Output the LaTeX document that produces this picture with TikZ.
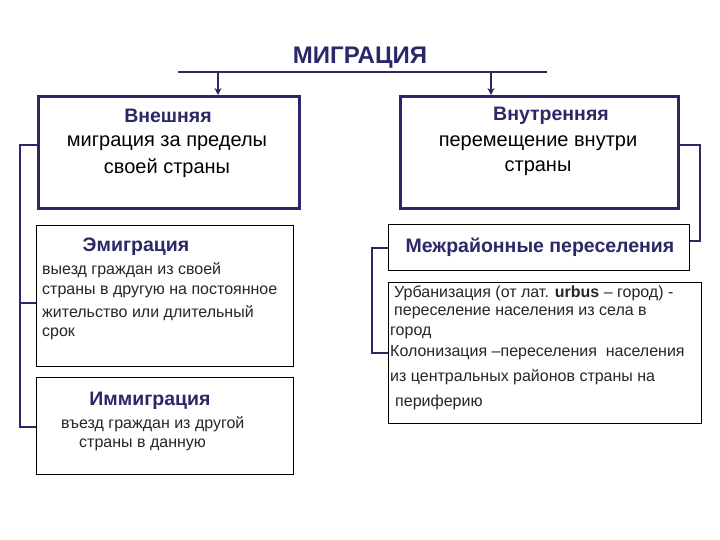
\documentclass[tikz,border=0pt]{standalone}
\usepackage{fontspec}
\setmainfont{Liberation Sans}
\usetikzlibrary{arrows.meta,calc}
\definecolor{navy}{RGB}{42,40,102}
\begin{document}
\begin{tikzpicture}[x=1pt,y=-1pt,
  bigbox/.style={draw=navy,line width=2.6pt,inner sep=0pt,anchor=north west},
  smallbox/.style={draw=black,line width=0.9pt,inner sep=0pt,anchor=north west},
  conn/.style={draw=navy,line width=2.6pt},
  head/.style={font=\bfseries\fontsize{19.5}{22}\selectfont,text=navy,inner sep=0pt},
  mainline/.style={font=\fontsize{20}{22}\selectfont,inner sep=0pt},
  body/.style={font=\fontsize{16}{18}\selectfont,inner sep=0pt,anchor=west,text=black!85}]
\useasboundingbox (0,0) rectangle (720,540);
\fill[white] (0,0) rectangle (720,540);
% title
\node[font=\bfseries\fontsize{24}{26}\selectfont,text=navy,inner sep=0pt] (title) at (360,58) {МИГРАЦИЯ};
\coordinate (tl) at (178,72);
\coordinate (tr) at (547,72);
\coordinate (ta) at (218,72);
\coordinate (tb) at (491,72);
\draw[conn] (tl) -- (tr);
% boxes
\node[bigbox,minimum width=261pt,minimum height=112pt] (ext) at (37,95) {};
\node[bigbox,minimum width=278pt,minimum height=112pt] (int) at (399,95) {};
\node[smallbox,minimum width=257pt,minimum height=141pt] (emig) at (36,225) {};
\node[smallbox,minimum width=257pt,minimum height=97pt] (immig) at (36,377) {};
\node[smallbox,line width=1.2pt,minimum width=301pt,minimum height=46pt] (mezh) at (388,224) {};
\node[smallbox,minimum width=313pt,minimum height=141pt] (urb) at (388,282) {};
% arrows
\draw[navy,line width=1.8pt,-{Stealth[length=7pt,width=7pt]}] (ta) -- (ta |- ext.north);
\draw[navy,line width=1.8pt,-{Stealth[length=7pt,width=7pt]}] (tb) -- (tb |- int.north);
% left connectors
\coordinate (l1) at (20,145);
\coordinate (l2) at (20,303);
\coordinate (l3) at (20,427);
\draw[conn,line join=miter] (ext.west |- l1) -- (l1) -- (l3) -- (immig.west |- l3);
\draw[conn] (l2) -- (emig.west |- l2);
% right connectors
\coordinate (r1) at (700,145);
\coordinate (r2) at (700,241);
\draw[conn,line join=miter] (int.east |- r1) -- (r1) -- (r2) -- (mezh.east |- r2);
\coordinate (m1) at (372,248);
\coordinate (m2) at (372,353);
\draw[conn,line join=miter] (mezh.west |- m1) -- (m1) -- (m2) -- (urb.west |- m2);
% texts in top boxes
\node[head] (exth) at (168,116) {Внешняя};
\node[mainline] (ext1) at (167,143) {миграция за пределы};
\node[mainline] (ext2) at (167,168) {своей страны};
\node[head] (inth) at (551,116) {Внутренняя};
\node[mainline] (int1) at (538,143) {перемещение внутри};
\node[mainline] (int2) at (538,168) {страны};
% emigration
\node[head] (emigh) at (136,247) {Эмиграция};
\node[body] (em1) at (42,270) {выезд граждан из своей};
\node[body] (em2) at (42,292) {страны в другую на постоянное};
\node[body] (em3) at (42,313) {жительство или длительный};
\node[body] (em4) at (42,334) {срок};
% immigration
\node[head] (immh) at (150,401) {Иммиграция};
\node[body] (im1) at (61,424) {въезд граждан из другой};
\node[body] (im2) at (79,445) {страны в данную};
% mezh
\node[head] (mezhh) at (540,247) {Межрайонные переселения};
% urb
\node[body] (u1) at (394,293) {Урбанизация (от лат. \textbf{urbus} – город) -};
\node[body] (u2) at (394,313) {переселение населения из села в};
\node[body] (u3) at (390,333) {город};
\node[body] (u4) at (390,353) {Колонизация –переселения\ \ населения};
\node[body] (u5) at (390,377) {из центральных районов страны на};
\node[body] (u6) at (395,402) {периферию};
\end{tikzpicture}
\end{document}
